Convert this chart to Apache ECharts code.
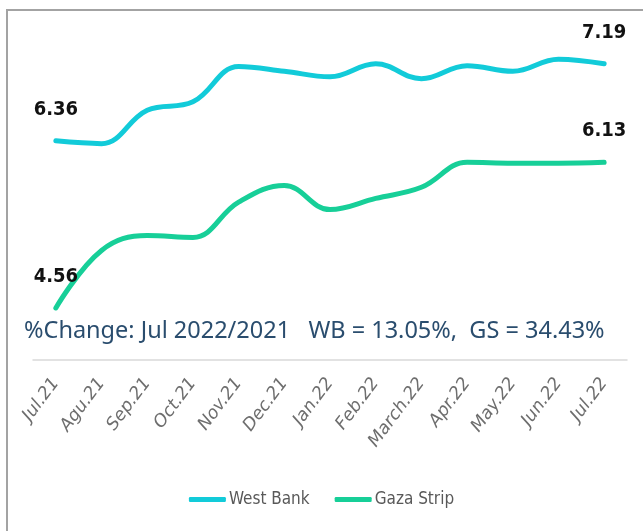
<!DOCTYPE html>
<html>
<head>
<meta charset="utf-8">
<script src="https://cdn.jsdelivr.net/npm/echarts@6/dist/echarts.min.js"></script>
<style>
  html, body { margin: 0; padding: 0; background: #fff; }
  #chart { width: 643px; height: 531px; }
</style>
</head>
<body>
<div id="chart"></div>
<script>
var months = ['Jul.21', 'Agu.21', 'Sep.21', 'Oct.21', 'Nov.21', 'Dec.21', 'Jan.22',
  'Feb.22', 'March.22', 'Apr.22', 'May.22', 'Jun.22', 'Jul.22'];
var westBank = [6.36, 6.33, 6.69, 6.78, 7.16, 7.11, 7.05, 7.19, 7.03, 7.17, 7.11, 7.24, 7.19];
var gazaStrip = [4.56, 5.18, 5.34, 5.32, 5.70, 5.88, 5.62, 5.74, 5.86, 6.13, 6.12, 6.12, 6.13];
var subtitle = '%Change: Jul 2022/2021   WB = 13.05%,  GS = 34.43%';

var chart = echarts.init(document.getElementById('chart'));

// only first and last point get a label
function endLabel(p) {
  return (p.dataIndex === 0 || p.dataIndex === months.length - 1) ? p.value.toFixed(2) : '';
}

var labelStyle = {
  show: true,
  position: 'top',
  distance: 21,
  formatter: endLabel,
  color: '#111',
  fontFamily: 'DejaVu Sans Condensed',
  fontWeight: 'bold',
  fontSize: 20
};

chart.setOption({
  backgroundColor: '#fff',
  animation: false,
  graphic: [{
    type: 'rect',
    shape: { x: 7, y: 10, width: 700, height: 600 },
    style: { fill: 'none', stroke: '#a3a3a3', lineWidth: 2 },
    z: -1
  }],
  title: {
    text: subtitle,
    left: 19,
    top: 314,
    textStyle: {
      color: '#2a4d6e',
      fontFamily: 'Noto Sans',
      fontWeight: 'normal',
      fontSize: 23.5
    }
  },
  legend: {
    bottom: 18,
    left: 'center',
    itemWidth: 37,
    itemHeight: 5,
    itemGap: 25,
    icon: 'roundRect',
    textStyle: {
      color: '#595959',
      fontFamily: 'DejaVu Sans Condensed',
      fontSize: 17,
      padding: [0, 0, 0, -2]
    },
    data: ['West Bank', 'Gaza Strip']
  },
  grid: {
    left: 33,
    right: 16,
    top: 35,
    bottom: 171
  },
  xAxis: {
    type: 'category',
    data: months,
    boundaryGap: true,
    axisLine: { lineStyle: { color: '#d9d9d9', width: 1.5 } },
    axisTick: { show: false },
    axisLabel: {
      rotate: 53,
      margin: 20,
      interval: 0,
      color: '#6e6e6e',
      fontFamily: 'DejaVu Sans',
      fontStyle: 'oblique',
      fontSize: 17.5
    }
  },
  yAxis: {
    type: 'value',
    min: 4,
    max: 7.5,
    show: false
  },
  series: [{
    name: 'West Bank',
    type: 'line',
    data: westBank,
    smooth: 0.4,
    symbol: 'circle',
    symbolSize: 0,
    color: '#12cbd9',
    lineStyle: { width: 5, cap: 'round' },
    label: labelStyle
  }, {
    name: 'Gaza Strip',
    type: 'line',
    data: gazaStrip,
    smooth: 0.4,
    symbol: 'circle',
    symbolSize: 0,
    color: '#17cf98',
    lineStyle: { width: 5, cap: 'round' },
    label: labelStyle
  }]
});
</script>
</body>
</html>
